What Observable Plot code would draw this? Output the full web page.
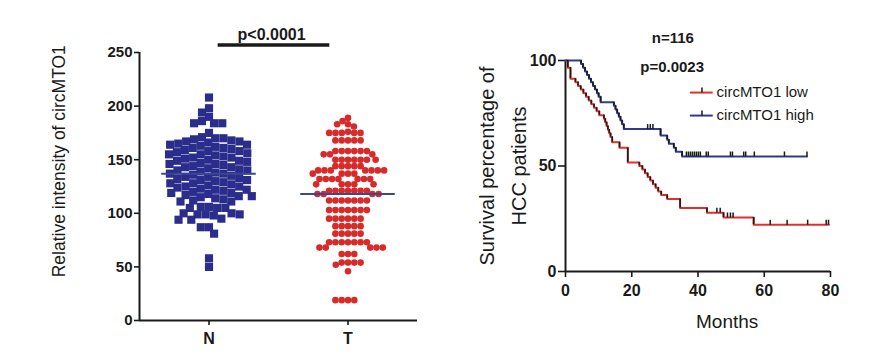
<!DOCTYPE html>
<html><head><meta charset="utf-8">
<script src="https://cdn.jsdelivr.net/npm/d3@7"></script>
<script src="https://cdn.jsdelivr.net/npm/@observablehq/plot@0.6"></script>
<style>
body{margin:0;background:#fff;}
#wrap{display:flex;width:895px;height:354px;overflow:hidden;}
#wrap svg{font-family:"Liberation Sans",Arial,sans-serif;color:#111;}
</style></head><body><div id="wrap"></div>
<script>
// ---------- left panel data ----------
const groups = ["N", "T"];
const nValues = [208,198,194,190,186,184,184,184,175,
 171,170,170,169,168,167,167,166,165,164,164,163,162,161,161,160,159,158,158,157,
 156,155,155,154,153,152,152,151,150,149,149,148,147,146,146,145,144,143,143,142,
 141,140,140,139,138,137,137,136,135,134,134,133,132,131,131,130,129,128,128,127,
 126,125,125,124,123,122,122,121,120,119,119,118,117,116,116,115,114,113,
 112,111,111,106,106,105,105,105,100,100,99,99,99,98,95,94,94,87,87,81,58,50];
const tValues = [189,186,183,181,183,176,175,175,175,175,175,168,168,168,168,168,
 158,158,158,158,158,158,155,155,155,150,150,150,150,150,150,150,144,144,144,144,144,
 140,140,140,140,140,140,140,137,137,137,137,132,132,132,132,132,132,132,127,127,127,127,127,
 121,121,121,121,121,121,121,118,118,118,118,
 112,112,112,112,112,112,112,103,103,103,103,103,103,103,95,95,95,95,95,95,88,88,88,88,88,
 81,81,81,81,81,73,73,73,73,73,73,73,68,68,68,68,68,62,62,62,54,54,54,54,52,46,19,19,19,19];
const meanValues = [137, 118];
const leftTicks = [0, 50, 100, 150, 200, 250];
const leftTitle = "Relative intensity of circMTO1";
const pLeft = "p<0.0001";

// ---------- right panel data (Kaplan-Meier) ----------
const lowMonths = [0,0.7,1.5,3.0,3.8,4.6,5.4,6.2,7.0,7.8,8.6,9.4,10.2,11.6,12.0,12.4,12.8,13.2,13.6,14.1,16.3,18.8,
 22.3,23.2,24.0,24.8,25.6,26.4,27.2,28.0,28.9,30.7,34.6,42.7,47.7,56.8,79.5];
const lowSurv = [100,96.6,91.4,89.7,87.9,86.2,84.5,82.8,81.0,79.3,77.6,75.9,74.1,72.4,70.7,69.0,67.2,65.5,63.8,61.2,58.6,51.7,
 50.0,48.3,46.6,44.8,43.1,41.4,39.7,37.9,36.2,34.4,30.1,27.8,25.6,22.2,22.2];
const highMonths = [0,4.7,5.3,5.9,6.5,7.1,7.7,8.3,8.9,9.5,10.0,10.6,14.6,15.1,15.6,16.1,16.6,17.1,17.6,
 28.7,30.7,31.2,32.7,33.3,35.2,72.9];
const highSurv = [100,98.3,96.6,94.8,93.1,91.4,89.7,87.9,86.2,84.5,82.8,80.2,78.5,76.8,75.0,73.3,71.6,69.8,67.5,
 64.5,62.5,60.5,58.6,56.8,54.5,54.5];
const lowCensor = [45.7,46.7,48.9,49.8,50.6,61.8,66.9,73.1,78.7,79.4];
const highCensor = [24.8,25.6,26.4,36.5,37.1,37.7,38.3,38.9,39.5,40.1,40.7,42.5,43.1,49.8,50.4,53.8,54.4,57.0,66.1,72.9];
const seriesNames = ["circMTO1 low", "circMTO1 high"];
const nText = "n=116";
const pRight = "p=0.0023";
const rightTicksX = [0, 20, 40, 60, 80];
const rightTicksY = [0, 50, 100];

const RED = "#e0302c", BLUE = "#2e3a8e", INK = "#1a1a1a";
const FONT = '"Liberation Sans", Arial, sans-serif';

// ---------- left plot ----------
const ptsN = nValues.map(v => ({g: "N", v}));
const ptsT = tValues.map(v => ({g: "T", v}));

const left = Plot.plot({
  width: 440, height: 354,
  marginLeft: 138, marginRight: 23, marginTop: 52, marginBottom: 34,
  style: {fontFamily: FONT, background: "transparent", color: INK},
  fx: {domain: groups, padding: 0, label: null},
  x: {domain: [0, 1], axis: null},
  y: {domain: [0, 250], label: null},
  marks: [
    Plot.axisY({ticks: leftTicks, tickSize: 5, tickPadding: 2, fontSize: 15, fontWeight: "bold", strokeWidth: 1.6, label: null}),
    Plot.axisFx({anchor: "bottom", tickSize: 5, tickPadding: 7, fontSize: 16, fontWeight: "bold", strokeWidth: 1.6, label: null}),
    Plot.ruleY([0], {stroke: INK, strokeWidth: 2}),
    Plot.ruleX([0], {fx: ["N"], y1: 0, y2: 250, stroke: INK, strokeWidth: 2}),
    Plot.dot(ptsN, Plot.dodgeX({anchor: "middle", padding: -1}, {fx: "g", y: "v", r: 4.6, symbol: "square", fill: "#2a2d8c"})),
    Plot.dot(ptsT, Plot.dodgeX({anchor: "middle", padding: -0.3}, {fx: "g", y: "v", r: 3.3, fill: "#d92a2a"})),
    Plot.ruleY(meanValues, {fx: groups, y: d => d, x1: 0.16, x2: 0.84, stroke: "#3d4690", strokeWidth: 2}),
    Plot.ruleY([257, 257], {fx: groups, y: d => d, x1: [0.566, 0], x2: [1, 0.369], stroke: INK, strokeWidth: 3.5}),
    Plot.text([pLeft], {fx: ["N"], x: 0.95, y: 266, fontSize: 16, fontWeight: "bold", fill: INK}),
    Plot.text([leftTitle], {fx: ["N"], frameAnchor: "left", textAnchor: "middle", y: 148.6, dx: -80, rotate: -90, fontSize: 17.5, fill: INK})
  ]
});

// ---------- right plot ----------
const rows = (ms, ss) => ms.map((t, i) => ({t, s: ss[i]}));
const drops = (ms, ss) => ms.map((t, i) => ({t, s0: i ? ss[i - 1] : ss[0], s1: ss[i]})).filter(d => d.s1 < d.s0);
const survAt = (ms, ss, t) => { let s = ss[0]; ms.forEach((m, i) => { if (m <= t) s = ss[i]; }); return s; };
const censorRows = (cs, ms, ss) => cs.map(t => ({t, s: survAt(ms, ss, t)}));
const tickUp = {draw(ctx) { ctx.moveTo(0, 0); ctx.lineTo(0, -5); }};

const legendRows = [
  {name: seriesNames[0], color: RED, y: 84.8},
  {name: seriesNames[1], color: BLUE, y: 73.9}
];

const right = Plot.plot({
  width: 455, height: 354,
  marginLeft: 125, marginRight: 65, marginTop: 60, marginBottom: 83,
  style: {fontFamily: FONT, background: "transparent", color: INK},
  x: {domain: [0, 80], label: null},
  y: {domain: [0, 100], label: null},
  marks: [
    Plot.axisX({ticks: rightTicksX, tickSize: 6, tickPadding: 7, fontSize: 16, fontWeight: "bold", strokeWidth: 1.6, label: null}),
    Plot.axisY({ticks: rightTicksY, tickSize: 7, tickPadding: 2, fontSize: 16, fontWeight: "bold", strokeWidth: 1.6, label: null}),
    Plot.ruleY([0], {x1: 0, x2: 80, stroke: INK, strokeWidth: 2}),
    Plot.ruleX([0], {y1: 0, y2: 100, stroke: INK, strokeWidth: 2}),
    Plot.line(rows(lowMonths, lowSurv), {x: "t", y: "s", curve: "step-after", stroke: RED, strokeWidth: 2}),
    Plot.line(rows(highMonths, highSurv), {x: "t", y: "s", curve: "step-after", stroke: BLUE, strokeWidth: 2}),
    Plot.ruleX(drops(lowMonths, lowSurv), {x: "t", y1: "s0", y2: "s1", stroke: INK, strokeWidth: 1.6}),
    Plot.ruleX(drops(highMonths, highSurv), {x: "t", y1: "s0", y2: "s1", stroke: INK, strokeWidth: 1.6}),
    Plot.dot(censorRows(lowCensor, lowMonths, lowSurv), {x: "t", y: "s", symbol: tickUp, stroke: INK, strokeWidth: 1.5, fill: "none"}),
    Plot.dot(censorRows(highCensor, highMonths, highSurv), {x: "t", y: "s", symbol: tickUp, stroke: INK, strokeWidth: 1.5, fill: "none"}),
    // legend
    Plot.ruleY(legendRows, {y: "y", x1: 37.7, x2: 44.6, stroke: "color", strokeWidth: 2}),
    Plot.dot(legendRows, {x: 41.2, y: "y", symbol: tickUp, stroke: INK, strokeWidth: 1.5, fill: "none"}),
    Plot.text(legendRows, {x: 45.6, y: "y", text: "name", textAnchor: "start", fontSize: 15, fill: INK}),
    Plot.text([nText], {x: 32.4, y: 110.4, fontSize: 15, fontWeight: "bold", fill: INK}),
    Plot.text([pRight], {x: 32.2, y: 96.7, fontSize: 15, fontWeight: "bold", fill: INK}),
    Plot.text(["Months"], {x: 48.8, frameAnchor: "bottom", dy: 56, fontSize: 19, fill: INK}),
    Plot.text(["Survival percentage of\nHCC patients"], {frameAnchor: "left", textAnchor: "middle", dx: -66, rotate: -90, fontSize: 20, lineHeight: 1.6, fill: INK})
  ]
});

document.getElementById("wrap").append(left, right);
</script></body></html>
